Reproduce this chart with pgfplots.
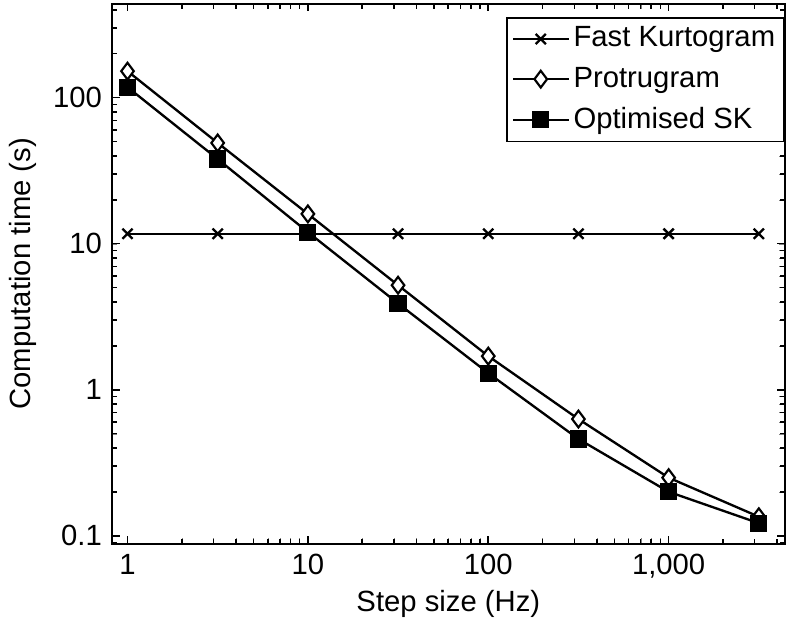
\documentclass[border=0pt]{standalone}
\usepackage{fontspec}
\setmainfont{Liberation Sans}
\usepackage{pgfplots}
\pgfplotsset{compat=1.18}

\begin{document}
\fontsize{15}{17}\selectfont
\begin{tikzpicture}
\begin{axis}[
    scale only axis,
    width=345pt, height=277pt,
    xmode=log, ymode=log,
    xmin=0.82, xmax=4400,
    ymin=0.088, ymax=440,
    xtick={1,10,100,1000},
    xticklabels={1,10,100,{1,000}},
    ytick={0.1,1,10,100},
    yticklabels={0.1,1,10,100},
    extra x ticks={2,3,4,5,6,7,8,9,20,30,40,50,60,70,80,90,200,300,400,500,600,700,800,900,2000,3000,4000},
    extra y ticks={0.09,0.2,0.3,0.4,0.5,0.6,0.7,0.8,0.9,2,3,4,5,6,7,8,9,20,30,40,50,60,70,80,90,200,300,400},
    extra x tick labels={},
    extra y tick labels={},
    extra x tick style={major tick length=2.5pt, grid=none},
    extra y tick style={major tick length=2.5pt, grid=none},
    tick align=inside,
    tick pos=both,
    major tick length=4pt,
    axis line style={line width=1pt},
    every major tick/.append style={black, line width=0.8pt},
    xlabel={Step size (Hz)},
    ylabel={Computation time (s)},
    xlabel style={yshift=4pt},
    ylabel style={yshift=-2pt},
    tick label style={font=\fontsize{15}{17}\selectfont},
    label style={font=\fontsize{15}{17}\selectfont},
    /pgf/number format/assume math mode=true,
    legend style={font=\fontsize{15}{17}\selectfont, draw=black, line width=0.8pt,
        at={(rel axis cs:1,0.975)}, anchor=north east, inner sep=2.5pt,
        row sep=4pt, cells={anchor=west}},
    legend image code/.code={
        \draw[#1] (0cm,0cm) -- (1cm,0cm);
        \draw[#1, mark repeat=1] plot coordinates {(0.5cm,0cm)};
    },
]
\addplot[black, line width=1.2pt, mark=x, mark size=3.7pt, mark options={line width=1.2pt}]
    coordinates {(1,11.7) (3.162,11.7) (10,11.7) (31.62,11.7) (100,11.7) (316.2,11.7) (1000,11.7) (3162,11.7)};
\addlegendentry{Fast Kurtogram}
\addplot[black, line width=1.2pt, mark=diamond*, mark size=4.3pt, mark options={fill=white, line width=1.1pt}]
    coordinates {(1,152) (3.162,49) (10,16) (31.62,5.2) (100,1.7) (316.2,0.63) (1000,0.25) (3162,0.135)};
\addlegendentry{Protrugram}
\addplot[black, line width=1.2pt, mark=square*, mark size=3.8pt, mark options={fill=black}]
    coordinates {(1,118) (3.162,38) (10,12) (31.62,3.9) (100,1.3) (316.2,0.46) (1000,0.2) (3162,0.122)};
\addlegendentry{Optimised SK}
\end{axis}
\end{tikzpicture}
\end{document}
